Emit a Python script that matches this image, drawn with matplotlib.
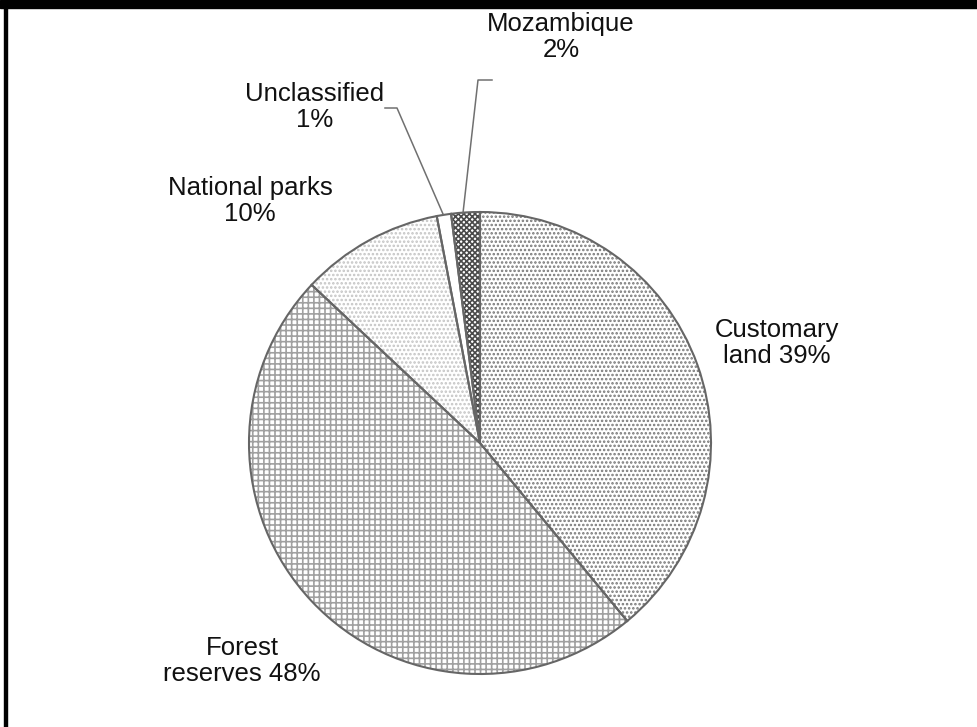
import matplotlib
matplotlib.use("Agg")
import matplotlib.pyplot as plt
from matplotlib.patches import Rectangle

plt.rcParams['font.family'] = ['Liberation Sans', 'DejaVu Sans']
plt.rcParams['hatch.linewidth'] = 1.2

# land tenure shares (%), clockwise from 12 o'clock
names = ["Customary\nland", "Forest\nreserves", "National parks", "Unclassified", "Mozambique"]
shares = [39, 48, 10, 1, 2]
hatches = ["....", "+++", "....", "", "xxxxxx"]
hatch_cols = ["#777777", "#a0a0a0", "#c4c4c4", "#ffffff", "#4a4a4a"]

W, H = 977, 727
fig = plt.figure(figsize=(W / 100, H / 100), dpi=100)
ax = fig.add_axes([0, 0, 1, 1])

cx, cy, r = 480, H - 443, 231

# hatched fill first, then the outlines on top
wedges, _ = ax.pie(shares, startangle=90, counterclock=False, center=(cx, cy),
                   radius=r, frame=True)
for w, h, c in zip(wedges, hatches, hatch_cols):
    w.set_facecolor("white")
    w.set_hatch(h)
    w.set_edgecolor(c)
    w.set_linewidth(0)

outl, _ = ax.pie(shares, startangle=90, counterclock=False, center=(cx, cy),
                 radius=r, frame=True,
                 wedgeprops=dict(fill=False, edgecolor="#666666", linewidth=1.5))

ax.set_xlim(0, W)
ax.set_ylim(0, H)
ax.set_aspect("equal")
ax.axis("off")

fs = 18.5
lbl = dict(fontsize=fs, ha="center", va="center", linespacing=1.12, color="#111111")
ax.text(777, H - 343, f"{names[0]} {shares[0]}%", **lbl)
ax.text(242, H - 661, f"{names[1]} {shares[1]}%", **lbl)
ax.text(250, H - 201, f"{names[2]}\n{shares[2]}%", **lbl)
ax.text(315, H - 107, f"{names[3]}\n{shares[3]}%", **lbl)
ax.text(561, H - 37, f"{names[4]}\n{shares[4]}%", **lbl)

# leader lines for the two thin slices
lead = dict(color="#707070", lw=1.1)
ax.plot([385, 397, 443], [H - 108, H - 108, H - 214], **lead)
ax.plot([492, 478, 463], [H - 80, H - 80, H - 213], **lead)

# frame: heavy top band and left rule
ax.add_patch(Rectangle((0, H - 8), W, 8, color="black", clip_on=False))
ax.add_patch(Rectangle((4, 0), 3, H - 8, color="black", clip_on=False))

fig.savefig("out.png", dpi=100)
